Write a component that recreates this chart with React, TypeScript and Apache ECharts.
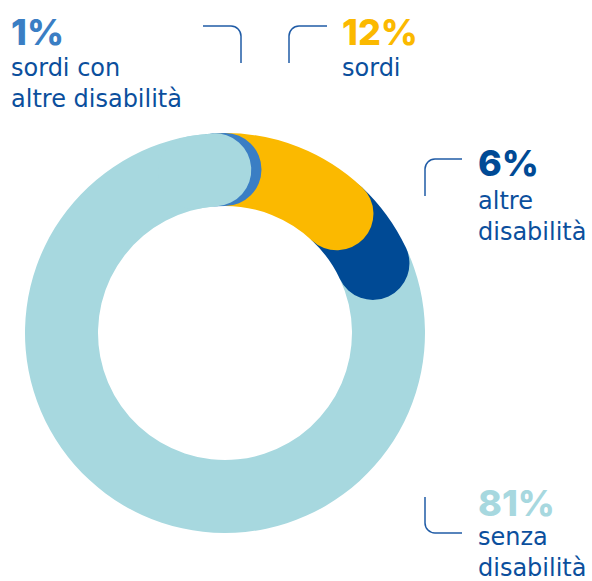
import React, { useEffect, useRef } from "react";
import * as echarts from "echarts";

const categories = ["sordi con\naltre disabilità", "sordi", "altre\ndisabilità", "senza\ndisabilità"];
const values = [1, 12, 6, 81];
const ringColors = ["#3a7ec4", "#fbb900", "#004a95", "#a7d8df"];
const percentColors = ["#3a7ec4", "#fbb900", "#004a95", "#a7d8df"];
const labelX = [11, 342, 478, 478];
const percentBaselineY = [45, 45, 176, 516];
const nameBaselineY = [77, 77, 210, 546];

const TEXT_BLUE = "#0b4f9d";
const LINE_BLUE = "#1f5ba6";
const FONT = "Inter, 'Noto Sans', sans-serif";
const NAME_FONT = "'DejaVu Sans', Inter, sans-serif";

export default function App() {
  const ref = useRef<HTMLDivElement>(null);
  useEffect(() => {
    if (!ref.current) return;
    const chart = echarts.init(ref.current, undefined, { renderer: "svg" });
    const total = values.reduce((a, b) => a + b, 0);
    const startAngle = 90 + (values[0] / total) * 360;

    const common = {
      type: "bar",
      roundCap: true,
      barWidth: "100%",
      barCategoryGap: "0%",
      silent: true,
    };

    const series: any[] = values.map((v, i) => ({
      ...common,
      coordinateSystem: "polar",
      polarIndex: 0,
      stack: "ring",
      data: [v],
      z: 10 - i,
      itemStyle: { color: ringColors[i] },
    }));
    // overlay (second polar): end cap of the last segment drawn over the start of the first
    const overlayLen = 2;
    series.push({
      ...common,
      coordinateSystem: "polar",
      polarIndex: 1,
      stack: "cap",
      data: [total - overlayLen],
      z: 1,
      itemStyle: { color: "rgba(0,0,0,0)" },
    });
    series.push({
      ...common,
      coordinateSystem: "polar",
      polarIndex: 1,
      stack: "cap",
      data: [overlayLen],
      z: 20,
      itemStyle: { color: ringColors[3] },
    });

    const texts: any[] = [];
    values.forEach((v, i) => {
      texts.push({
        type: "text",
        z: 50,
        style: {
          text: `${v}%`,
          x: labelX[i],
          y: percentBaselineY[i] - 13,
          verticalAlign: "middle",
          font: `800 36px ${FONT}`,
          fill: percentColors[i],
        },
      });
      texts.push({
        type: "text",
        z: 50,
        style: {
          text: categories[i],
          x: labelX[i],
          y: nameBaselineY[i] - 24.5,
          verticalAlign: "top",
          font: `400 24px ${NAME_FONT}`,
          lineHeight: 31,
          fill: TEXT_BLUE,
        },
      });
    });

    const ls = { stroke: LINE_BLUE, lineWidth: 1.5, fill: "none" };
    const connectors: any[] = [
      // 1%
      { type: "line", shape: { x1: 203, y1: 26, x2: 231, y2: 26 }, style: ls },
      { type: "arc", shape: { cx: 231, cy: 36, r: 10, startAngle: -Math.PI / 2, endAngle: 0, clockwise: true }, style: ls },
      { type: "line", shape: { x1: 241, y1: 36, x2: 241, y2: 63 }, style: ls },
      // 12%
      { type: "line", shape: { x1: 289, y1: 63, x2: 289, y2: 36 }, style: ls },
      { type: "arc", shape: { cx: 299, cy: 36, r: 10, startAngle: Math.PI, endAngle: Math.PI * 1.5, clockwise: true }, style: ls },
      { type: "line", shape: { x1: 299, y1: 26, x2: 327, y2: 26 }, style: ls },
      // 6%
      { type: "line", shape: { x1: 425, y1: 196, x2: 425, y2: 169 }, style: ls },
      { type: "arc", shape: { cx: 435, cy: 169, r: 10, startAngle: Math.PI, endAngle: Math.PI * 1.5, clockwise: true }, style: ls },
      { type: "line", shape: { x1: 435, y1: 159, x2: 462, y2: 159 }, style: ls },
      // 81%
      { type: "line", shape: { x1: 425, y1: 497, x2: 425, y2: 523 }, style: ls },
      { type: "arc", shape: { cx: 435, cy: 523, r: 10, startAngle: Math.PI / 2, endAngle: Math.PI, clockwise: true }, style: ls },
      { type: "line", shape: { x1: 435, y1: 533, x2: 462, y2: 533 }, style: ls },
    ];

    const angleAxis = (idx: number) => ({
      type: "value",
      polarIndex: idx,
      min: 0,
      max: total,
      startAngle,
      clockwise: true,
      show: false,
    });
    const radiusAxis = (idx: number) => ({ type: "category", polarIndex: idx, data: [""], show: false });

    chart.setOption({
      animation: false,
      backgroundColor: "#ffffff",
      polar: [
        { center: [225, 333], radius: [127, 200] },
        { center: [225, 333], radius: [127, 200] },
      ],
      angleAxis: [angleAxis(0), angleAxis(1)],
      radiusAxis: [radiusAxis(0), radiusAxis(1)],
      series,
      graphic: { elements: [...connectors, ...texts] },
    });
    return () => chart.dispose();
  }, []);
  return (
    <div
      ref={ref}
      style={{ position: "absolute", left: 0, top: 0, width: 592, height: 581, background: "#fff" }}
    />
  );
}
